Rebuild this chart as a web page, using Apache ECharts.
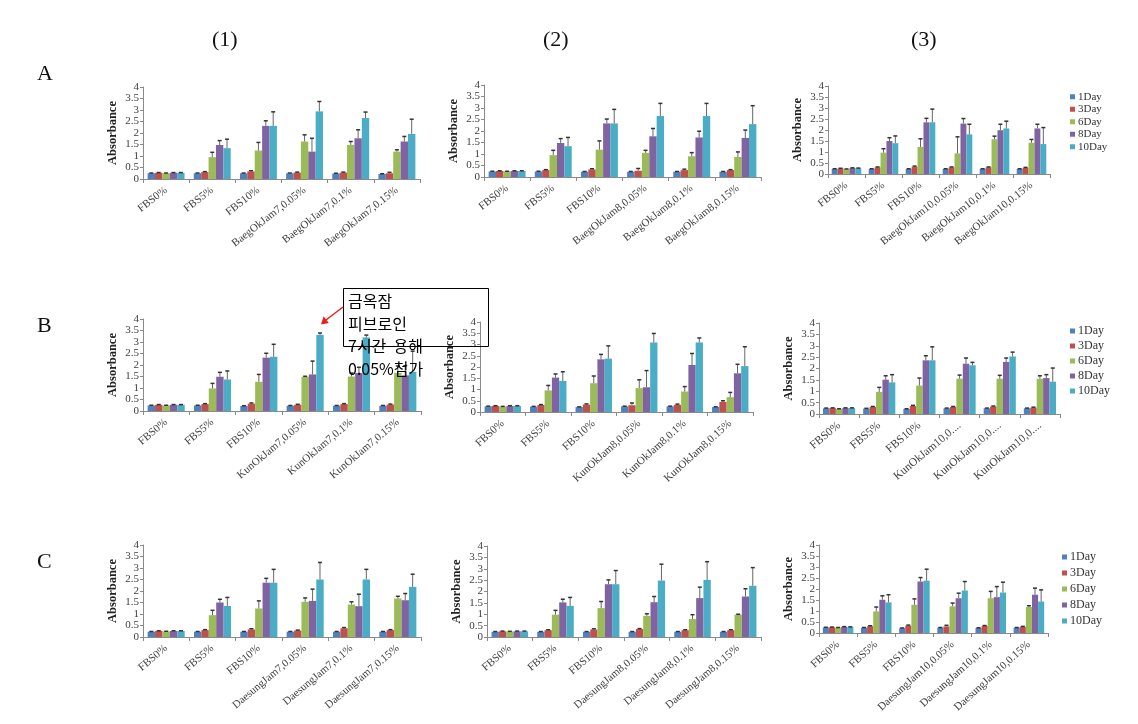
<!DOCTYPE html>
<html>
<head>
<meta charset="utf-8">
<script src="https://cdn.jsdelivr.net/npm/echarts@6/dist/echarts.min.js"></script>
<style>html,body{margin:0;padding:0;background:#fff;}#c{width:1138px;height:724px;}</style>
</head>
<body>
<div id="c"></div>
<script>
// ---------- DATA ----------
const days = ["1Day", "3Day", "6Day", "8Day", "10Day"];
const dayColors = ["#4F81BD", "#C0504D", "#9BBB59", "#8064A2", "#4BACC6"];
const yTicks = [0, 0.5, 1, 1.5, 2, 2.5, 3, 3.5, 4];

// A(1) BaegOkJam7
const A1_cats = ["FBS0%", "FBS5%", "FBS10%", "BaegOkJam7,0.05%", "BaegOkJam7,0.1%", "BaegOkJam7,0.15%"];
const A1_1Day = [0.25, 0.25, 0.25, 0.25, 0.24, 0.22];
const A1_3Day = [0.27, 0.30, 0.33, 0.28, 0.28, 0.25];
const A1_6Day = [0.25, 0.95, 1.24, 1.63, 1.48, 1.19];
const A1_8Day = [0.27, 1.48, 2.31, 1.19, 1.77, 1.63];
const A1_10Day = [0.27, 1.34, 2.31, 2.94, 2.65, 1.96];
const A1_1Day_sd = [0.01, 0.01, 0.01, 0.01, 0.01, 0.01];
const A1_3Day_sd = [0.01, 0.02, 0.03, 0.02, 0.02, 0.04];
const A1_6Day_sd = [0.01, 0.21, 0.35, 0.29, 0.15, 0.08];
const A1_8Day_sd = [0.01, 0.19, 0.22, 0.58, 0.37, 0.22];
const A1_10Day_sd = [0.01, 0.39, 0.61, 0.43, 0.26, 0.64];

// A(2) BaegOkJam8
const A2_cats = ["FBS0%", "FBS5%", "FBS10%", "BaegOkJam8,0.05%", "BaegOkJam8,0.1%", "BaegOkJam8,0.15%"];
const A2_1Day = [0.24, 0.24, 0.23, 0.23, 0.23, 0.23];
const A2_3Day = [0.26, 0.30, 0.33, 0.27, 0.30, 0.30];
const A2_6Day = [0.24, 0.95, 1.19, 1.05, 0.90, 0.87];
const A2_8Day = [0.26, 1.48, 2.33, 1.77, 1.72, 1.70];
const A2_10Day = [0.26, 1.34, 2.33, 2.65, 2.65, 2.30];
const A2_1Day_sd = [0.01, 0.01, 0.01, 0.01, 0.01, 0.01];
const A2_3Day_sd = [0.01, 0.02, 0.03, 0.10, 0.04, 0.02];
const A2_6Day_sd = [0.01, 0.21, 0.38, 0.11, 0.16, 0.22];
const A2_8Day_sd = [0.01, 0.19, 0.19, 0.34, 0.27, 0.34];
const A2_10Day_sd = [0.01, 0.38, 0.61, 0.55, 0.55, 0.80];

// A(3) BaegOkJam10
const A3_cats = ["FBS0%", "FBS5%", "FBS10%", "BaegOkJam10,0.05%", "BaegOkJam10,0.1%", "BaegOkJam10,0.15%"];
const A3_1Day = [0.23, 0.23, 0.23, 0.23, 0.23, 0.23];
const A3_3Day = [0.25, 0.30, 0.33, 0.30, 0.30, 0.28];
const A3_6Day = [0.22, 0.97, 1.23, 0.94, 1.58, 1.42];
const A3_8Day = [0.27, 1.50, 2.35, 2.29, 1.99, 2.07];
const A3_10Day = [0.26, 1.40, 2.35, 1.80, 2.07, 1.36];
const A3_1Day_sd = [0.01, 0.01, 0.01, 0.01, 0.01, 0.01];
const A3_3Day_sd = [0.01, 0.02, 0.03, 0.02, 0.02, 0.02];
const A3_6Day_sd = [0.01, 0.18, 0.37, 0.75, 0.14, 0.15];
const A3_8Day_sd = [0.01, 0.15, 0.18, 0.23, 0.27, 0.19];
const A3_10Day_sd = [0.01, 0.33, 0.60, 0.46, 0.33, 0.75];

// B(1) KunOkJam7
const B1_cats = ["FBS0%", "FBS5%", "FBS10%", "KunOkJam7,0.05%", "KunOkJam7,0.1%", "KunOkJam7,0.15%"];
const B1_1Day = [0.24, 0.24, 0.22, 0.23, 0.23, 0.23];
const B1_3Day = [0.27, 0.30, 0.32, 0.27, 0.30, 0.28];
const B1_6Day = [0.24, 0.98, 1.27, 1.49, 1.50, 1.66];
const B1_8Day = [0.27, 1.49, 2.32, 1.59, 1.65, 1.55];
const B1_10Day = [0.27, 1.37, 2.36, 3.31, 3.20, 1.70];
const B1_1Day_sd = [0.01, 0.01, 0.01, 0.01, 0.01, 0.01];
const B1_3Day_sd = [0.01, 0.02, 0.03, 0.02, 0.02, 0.02];
const B1_6Day_sd = [0.01, 0.22, 0.32, 0.02, 0.15, 0.30];
const B1_8Day_sd = [0.01, 0.19, 0.19, 0.58, 0.25, 0.42];
const B1_10Day_sd = [0.01, 0.37, 0.54, 0.08, 0.10, 0.90];

// B(2) KunOkJam8
const B2_cats = ["FBS0%", "FBS5%", "FBS10%", "KunOkJam8,0.05%", "KunOkJam8,0.1%", "KunOkJam8,0.15%"];
const B2_1Day = [0.25, 0.24, 0.22, 0.25, 0.25, 0.22];
const B2_3Day = [0.27, 0.31, 0.33, 0.30, 0.32, 0.45];
const B2_6Day = [0.24, 0.96, 1.28, 1.06, 0.91, 0.66];
const B2_8Day = [0.27, 1.53, 2.34, 1.10, 2.09, 1.72];
const B2_10Day = [0.27, 1.38, 2.37, 3.09, 3.09, 2.04];
const B2_1Day_sd = [0.01, 0.01, 0.01, 0.01, 0.01, 0.01];
const B2_3Day_sd = [0.01, 0.02, 0.03, 0.10, 0.03, 0.05];
const B2_6Day_sd = [0.01, 0.22, 0.32, 0.37, 0.22, 0.21];
const B2_8Day_sd = [0.01, 0.16, 0.22, 0.74, 0.51, 0.40];
const B2_10Day_sd = [0.01, 0.41, 0.57, 0.40, 0.20, 0.86];

// B(3) KunOkJam10
const B3_cats = ["FBS0%", "FBS5%", "FBS10%", "KunOkJam10,0.05%", "KunOkJam10,0.1%", "KunOkJam10,0.15%"];
const B3_1Day = [0.25, 0.24, 0.22, 0.25, 0.25, 0.25];
const B3_3Day = [0.26, 0.31, 0.35, 0.31, 0.33, 0.28];
const B3_6Day = [0.22, 0.97, 1.25, 1.55, 1.55, 1.55];
const B3_8Day = [0.26, 1.51, 2.36, 2.21, 2.29, 1.58];
const B3_10Day = [0.26, 1.39, 2.36, 2.14, 2.53, 1.42];
const B3_1Day_sd = [0.01, 0.01, 0.01, 0.01, 0.01, 0.01];
const B3_3Day_sd = [0.01, 0.02, 0.03, 0.02, 0.02, 0.02];
const B3_6Day_sd = [0.01, 0.20, 0.33, 0.16, 0.15, 0.13];
const B3_8Day_sd = [0.01, 0.17, 0.20, 0.25, 0.17, 0.15];
const B3_10Day_sd = [0.01, 0.34, 0.59, 0.13, 0.19, 0.60];

// C(1) DaesungJam7
const C1_cats = ["FBS0%", "FBS5%", "FBS10%", "DaesungJam7,0.05%", "DaesungJam7,0.1%", "DaesungJam7,0.15%"];
const C1_1Day = [0.23, 0.23, 0.23, 0.23, 0.23, 0.23];
const C1_3Day = [0.26, 0.30, 0.33, 0.28, 0.38, 0.30];
const C1_6Day = [0.24, 0.95, 1.24, 1.53, 1.41, 1.67];
const C1_8Day = [0.26, 1.50, 2.36, 1.57, 1.34, 1.60];
const C1_10Day = [0.26, 1.35, 2.36, 2.50, 2.50, 2.18];
const C1_1Day_sd = [0.01, 0.01, 0.01, 0.01, 0.01, 0.01];
const C1_3Day_sd = [0.01, 0.02, 0.03, 0.02, 0.03, 0.02];
const C1_6Day_sd = [0.01, 0.21, 0.33, 0.17, 0.12, 0.10];
const C1_8Day_sd = [0.01, 0.14, 0.19, 0.51, 0.52, 0.29];
const C1_10Day_sd = [0.01, 0.37, 0.58, 0.74, 0.44, 0.55];

// C(2) DaesungJam8
const C2_cats = ["FBS0%", "FBS5%", "FBS10%", "DaesungJam8,0.05%", "DaesungJam8,0.1%", "DaesungJam8,0.15%"];
const C2_1Day = [0.23, 0.23, 0.23, 0.23, 0.23, 0.23];
const C2_3Day = [0.25, 0.30, 0.33, 0.35, 0.30, 0.30];
const C2_6Day = [0.24, 0.98, 1.27, 0.93, 0.79, 0.98];
const C2_8Day = [0.25, 1.52, 2.32, 1.53, 1.71, 1.78];
const C2_10Day = [0.25, 1.37, 2.32, 2.48, 2.51, 2.25];
const C2_1Day_sd = [0.01, 0.01, 0.01, 0.01, 0.01, 0.01];
const C2_3Day_sd = [0.01, 0.02, 0.03, 0.02, 0.02, 0.02];
const C2_6Day_sd = [0.01, 0.19, 0.29, 0.09, 0.19, 0.02];
const C2_8Day_sd = [0.01, 0.14, 0.19, 0.25, 0.48, 0.34];
const C2_10Day_sd = [0.01, 0.37, 0.60, 0.72, 0.80, 0.80];

// C(3) DaesungJam10
const C3_cats = ["FBS0%", "FBS5%", "FBS10%", "DaesungJam10,0.05%", "DaesungJam10,0.1%", "DaesungJam10,0.15%"];
const C3_1Day = [0.25, 0.24, 0.22, 0.24, 0.23, 0.24];
const C3_3Day = [0.26, 0.31, 0.33, 0.30, 0.32, 0.28];
const C3_6Day = [0.24, 0.98, 1.28, 1.21, 1.58, 1.18];
const C3_8Day = [0.28, 1.51, 2.34, 1.58, 1.63, 1.74];
const C3_10Day = [0.27, 1.39, 2.38, 1.93, 1.84, 1.43];
const C3_1Day_sd = [0.01, 0.01, 0.01, 0.01, 0.01, 0.01];
const C3_3Day_sd = [0.01, 0.02, 0.03, 0.05, 0.02, 0.02];
const C3_6Day_sd = [0.01, 0.20, 0.27, 0.15, 0.31, 0.06];
const C3_8Day_sd = [0.01, 0.18, 0.18, 0.23, 0.48, 0.30];
const C3_10Day_sd = [0.01, 0.35, 0.52, 0.41, 0.47, 0.53];

const colTitles = ["(1)", "(2)", "(3)"];
const rowTitles = ["A", "B", "C"];
const noteLines = ["금옥잠", "피브로인", "7시간  용해", "0.05%첨가"];

// ---------- LAYOUT ----------
const panels = [
  {cats: A1_cats, vals: [A1_1Day, A1_3Day, A1_6Day, A1_8Day, A1_10Day], sds: [A1_1Day_sd, A1_3Day_sd, A1_6Day_sd, A1_8Day_sd, A1_10Day_sd], g: {left: 143, top: 87, width: 277, height: 92}, rot: 38, fs: 11},
  {cats: A2_cats, vals: [A2_1Day, A2_3Day, A2_6Day, A2_8Day, A2_10Day], sds: [A2_1Day_sd, A2_3Day_sd, A2_6Day_sd, A2_8Day_sd, A2_10Day_sd], g: {left: 484, top: 85, width: 277, height: 92}, rot: 38, fs: 11},
  {cats: A3_cats, vals: [A3_1Day, A3_3Day, A3_6Day, A3_8Day, A3_10Day], sds: [A3_1Day_sd, A3_3Day_sd, A3_6Day_sd, A3_8Day_sd, A3_10Day_sd], g: {left: 828, top: 86, width: 222, height: 88}, rot: 38, fs: 11},
  {cats: B1_cats, vals: [B1_1Day, B1_3Day, B1_6Day, B1_8Day, B1_10Day], sds: [B1_1Day_sd, B1_3Day_sd, B1_6Day_sd, B1_8Day_sd, B1_10Day_sd], g: {left: 143, top: 319, width: 278, height: 92}, rot: 40, fs: 11},
  {cats: B2_cats, vals: [B2_1Day, B2_3Day, B2_6Day, B2_8Day, B2_10Day], sds: [B2_1Day_sd, B2_3Day_sd, B2_6Day_sd, B2_8Day_sd, B2_10Day_sd], g: {left: 480, top: 322, width: 273, height: 90}, rot: 42, fs: 11},
  {cats: B3_cats, vals: [B3_1Day, B3_3Day, B3_6Day, B3_8Day, B3_10Day], sds: [B3_1Day_sd, B3_3Day_sd, B3_6Day_sd, B3_8Day_sd, B3_10Day_sd], g: {left: 819, top: 323, width: 241, height: 91}, rot: 40, fs: 11.5, trunc: true},
  {cats: C1_cats, vals: [C1_1Day, C1_3Day, C1_6Day, C1_8Day, C1_10Day], sds: [C1_1Day_sd, C1_3Day_sd, C1_6Day_sd, C1_8Day_sd, C1_10Day_sd], g: {left: 143, top: 545, width: 278, height: 92}, rot: 40, fs: 11},
  {cats: C2_cats, vals: [C2_1Day, C2_3Day, C2_6Day, C2_8Day, C2_10Day], sds: [C2_1Day_sd, C2_3Day_sd, C2_6Day_sd, C2_8Day_sd, C2_10Day_sd], g: {left: 487, top: 546, width: 274, height: 91}, rot: 40, fs: 11},
  {cats: C3_cats, vals: [C3_1Day, C3_3Day, C3_6Day, C3_8Day, C3_10Day], sds: [C3_1Day_sd, C3_3Day_sd, C3_6Day_sd, C3_8Day_sd, C3_10Day_sd], g: {left: 819, top: 545, width: 229, height: 88}, rot: 42, fs: 11}
];

const SERIF = "'Liberation Serif', 'Times New Roman', serif";
const AXIS_COLOR = "#8a8a8a";
const TEXT_COLOR = "#404040";
const CAT_GAP = 0.2;

const grids = [], xAxes = [], yAxes = [], series = [];
panels.forEach((p, i) => {
  grids.push(Object.assign({containLabel: false}, p.g));
  xAxes.push({
    type: "category", gridIndex: i, data: p.cats,
    axisLine: {lineStyle: {color: AXIS_COLOR}},
    axisTick: {show: true, length: 4, lineStyle: {color: AXIS_COLOR}},
    axisLabel: {
      rotate: p.rot, interval: 0, margin: 10, fontFamily: SERIF, fontSize: p.fs, color: TEXT_COLOR,
      formatter: p.trunc ? (v => v.length > 12 && v.indexOf("FBS") !== 0 ? v.slice(0, 12) + "...." : v) : null
    }
  });
  yAxes.push({
    type: "value", gridIndex: i, min: 0, max: 4, interval: 0.5,
    name: "Absorbance", nameLocation: "middle", nameGap: 24,
    nameTextStyle: {fontFamily: SERIF, fontWeight: "bold", fontSize: 12.5, color: "#222"},
    axisLine: {show: true, lineStyle: {color: AXIS_COLOR}},
    axisTick: {show: true, length: 3, lineStyle: {color: AXIS_COLOR}},
    splitLine: {show: false},
    axisLabel: {fontFamily: SERIF, fontSize: 11, color: TEXT_COLOR, margin: 4,
      customValues: yTicks}
  });
  days.forEach((d, k) => {
    series.push({
      type: "bar", name: d, xAxisIndex: i, yAxisIndex: i,
      data: p.vals[k], barGap: "0%", barCategoryGap: (CAT_GAP * 100) + "%",
      itemStyle: {color: dayColors[k]}, animation: false
    });
  });
  const errData = [];
  days.forEach((d, k) => {
    p.vals[k].forEach((v, ci) => errData.push([ci, k, v, p.sds[k][ci]]));
  });
  series.push({
    type: "custom", name: "err", xAxisIndex: i, yAxisIndex: i, z: 5, animation: false,
    encode: {x: 0, y: 2},
    data: errData,
    renderItem: function (params, api) {
      const ci = api.value(0), k = api.value(1), v = api.value(2), sd = api.value(3);
      const base = api.coord([ci, v]);
      const top = api.coord([ci, v + sd]);
      const bw = api.size([1, 0])[0];
      const gw = bw * (1 - CAT_GAP);
      const w = gw / days.length;
      const x = base[0] - gw / 2 + w * (k + 0.5);
      return {type: "group", children: [
        {type: "line", shape: {x1: x, y1: base[1], x2: x, y2: top[1]}, style: {stroke: "#666", lineWidth: 1}},
        {type: "line", shape: {x1: x - 2, y1: top[1], x2: x + 2, y2: top[1]}, style: {stroke: "#333", lineWidth: 1.5}}
      ]};
    }
  });
});

const legendCommon = {orient: "vertical", itemWidth: 5, itemHeight: 5, icon: "rect", data: days,
  textStyle: {fontFamily: SERIF, color: "#333", padding: [0, 0, 0, -2]}};
const legends = [
  Object.assign({}, legendCommon, {left: 1065, top: 86, itemGap: 1, textStyle: Object.assign({}, legendCommon.textStyle, {fontSize: 11, lineHeight: 11.5})}),
  Object.assign({}, legendCommon, {left: 1065, top: 320, itemGap: 3, textStyle: Object.assign({}, legendCommon.textStyle, {fontSize: 12, lineHeight: 12})}),
  Object.assign({}, legendCommon, {left: 1057, top: 546, itemGap: 4, textStyle: Object.assign({}, legendCommon.textStyle, {fontSize: 12, lineHeight: 12})})
];

const colX = [225, 556, 924];
const rowY = [75, 327, 563];
const graphics = [];
colTitles.forEach((t, i) => graphics.push({type: "text", left: colX[i] - 13, top: 29,
  style: {text: t, font: "22px " + SERIF, fill: "#111"}}));
rowTitles.forEach((t, i) => graphics.push({type: "text", left: 37, top: rowY[i] - 12,
  style: {text: t, font: "22px " + SERIF, fill: "#111"}}));
// annotation box with arrow
graphics.push({type: "rect", shape: {x: 343.5, y: 288.5, width: 145, height: 58}, style: {fill: "none", stroke: "#000", lineWidth: 1}, z: 50});
graphics.push({type: "text", x: 348, y: 290, z: 51,
  style: {text: noteLines.join("\n"), font: "16px 'Noto Sans CJK KR', sans-serif", lineHeight: 22.5, fill: "#000"}});
graphics.push({type: "line", shape: {x1: 343, y1: 307, x2: 326, y2: 320}, style: {stroke: "#ee1c1c", lineWidth: 1.5}, z: 50});
graphics.push({type: "polygon", shape: {points: [[321, 324.5], [323.6, 316.3], [328.8, 323.1]]}, style: {fill: "#ee1c1c"}, z: 50});

const chart = echarts.init(document.getElementById("c"), null, {renderer: "canvas"});
chart.setOption({
  animation: false,
  backgroundColor: "#fff",
  grid: grids, xAxis: xAxes, yAxis: yAxes, series: series,
  legend: legends, graphic: graphics
});
</script>
</body>
</html>
